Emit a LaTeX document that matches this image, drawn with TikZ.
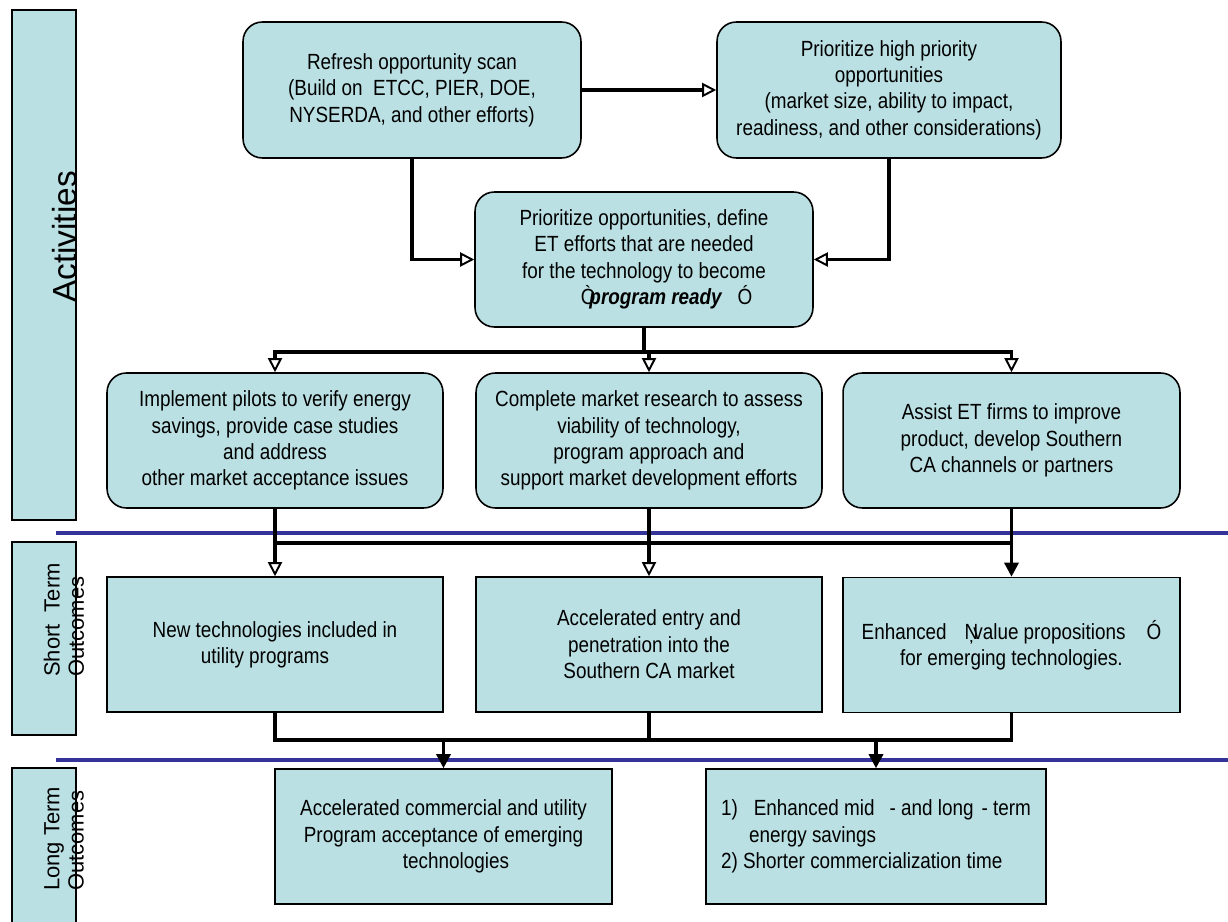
\documentclass[tikz,border=0pt]{standalone}
\usepackage{fontspec}
\setmainfont[FakeStretch=0.86]{Liberation Sans}
\newfontfamily\sidefont{Liberation Sans}
\usetikzlibrary{arrows.meta, positioning, calc}
\definecolor{boxblue}{RGB}{186,224,227}
\definecolor{ruleblue}{RGB}{51,51,153}
\tikzset{
  roundbox/.style={rectangle, rounded corners=11pt,
    minimum width=6.76cm, minimum height=2.72cm, inner sep=0pt,
    text centered, draw=black, line width=0.9pt, fill=boxblue,
    font=\fontsize{12.5}{15}\selectfont, align=center},
  squarebox/.style={rectangle,
    minimum width=6.72cm, minimum height=2.7cm, inner sep=0pt,
    text centered, draw=black, line width=0.9pt, fill=boxblue,
    font=\fontsize{12.5}{15}\selectfont, align=center},
  sidebox/.style={rectangle, minimum width=1.28cm, inner sep=0pt,
    draw=black, line width=0.9pt, fill=boxblue},
  sidelabel/.style={rotate=90, align=left, inner sep=0pt,
    font=\sidefont\fontsize{12.5}{13.8}\selectfont},
  divider/.style={draw=ruleblue, line width=2.3pt},
  arr/.style={-{Triangle[open, length=8pt, width=8pt, line width=1.1pt]}, line width=1.8pt},
  arrf/.style={-{Triangle[length=8pt, width=8pt]}, line width=1.8pt},
  busline/.style={line width=1.8pt},
}
\begin{document}
\begin{tikzpicture}[x=0.02cm, y=-0.02cm]

\useasboundingbox (0,0) rectangle (1228,922);
\clip (0,0) rectangle (1228,922);

% Side labels
\node (actbox) [sidebox, minimum height=10.2cm] at (44,265) {};
\node (actlabel) [sidelabel, font=\sidefont\fontsize{19}{22}\selectfont] at (65,237) {Activities};
\node (stbox) [sidebox, minimum height=3.86cm] at (44,638.5) {};
\node (stlabel) [sidelabel] at (64,620) {Short\ \ Term\\Outcomes};
\node (ltbox) [sidebox, minimum height=3.2cm] at (44,848) {};
\node (ltlabel) [sidelabel] at (64,839) {Long Term\\Outcomes};

% Dividers
\draw[divider] (56,533) -- (1228,533);
\draw[divider] (56,760) -- (1228,760);

% Activities
\node (scan) [roundbox] at (412,90)
  {Refresh opportunity scan\\(Build on\ \ ETCC, PIER, DOE,\\NYSERDA, and other efforts)};

\node (prio) [roundbox, minimum width=6.88cm] at (889,90)
  {Prioritize high priority\\opportunities\\(market size, ability to impact,\\readiness, and other considerations)};

\node (define) [roundbox, minimum height=2.7cm] at (644,259.5)
  {Prioritize opportunities, define\\ET efforts that are needed\\for the technology to become\\
   \hspace*{0.9cm}Ò\kern-0.12cm\textbf{\textit{program ready}}\hspace{0.3cm}Ó};

\node (pilots) [roundbox, minimum width=6.72cm, minimum height=2.7cm] at (275,440.5)
  {Implement pilots to verify energy\\savings, provide case studies\\and address\\other market acceptance issues};

\node (research) [roundbox, minimum width=6.92cm, minimum height=2.7cm] at (649,440.5)
  {Complete market research to assess\\viability of technology,\\program approach and\\support market development efforts};

\node (assist) [roundbox, minimum width=6.74cm, minimum height=2.7cm] at (1011.5,440.5)
  {Assist ET firms to improve\\product, develop Southern\\CA channels or partners};

% Short term outcomes
\node (newtech) [squarebox] at (275,644.5)
  {New technologies included in\\utility programs\hspace*{0.4cm}};

\node (entry) [squarebox, minimum width=6.92cm] at (649,644.5)
  {Accelerated entry and\\penetration into the\\Southern CA market};

\node (value) [squarebox, minimum width=6.74cm] at (1011.5,645)
  {Enhanced\hspace{0.36cm}Ņ\kern-0.1cm value propositions\hspace{0.42cm}Ó\\for emerging technologies.};

% Long term outcomes
\node (accept) [squarebox, minimum width=6.74cm] at (443.5,836.5)
  {Accelerated commercial and utility\\Program acceptance of emerging\\\hspace*{0.5cm}technologies};

\node (savings) [squarebox, minimum width=6.8cm, align=left] at (876,836.5)
  {1)\hspace{0.32cm}Enhanced mid\hspace{0.3cm}- and long\hspace{0.16cm}- term\\
   \hspace*{0.56cm}energy savings\\2) Shorter commercialization time};

% Buses
\coordinate (bus1) at (0,352);
\coordinate (bus2) at (0,543);
\coordinate (bus3) at (0,740);

% Connectors
\draw[arr] (scan.east) -- (prio.west);
\draw[arr] (scan.south) |- (define.west);
\draw[arr] (prio.south) |- (define.east);
\foreach \n in {pilots, research, assist}
  \draw[arr] (define.south) |- (bus1 -| \n.north) -- (\n.north);

\draw[busline] (pilots.south |- bus2) -- (assist.south |- bus2);
\draw[arr]  (pilots.south)   -- (newtech.north);
\draw[arr]  (research.south) -- (entry.north);
\draw[arrf] (assist.south)   -- (value.north);

\draw[busline] (newtech.south) |- (bus3 -| value.south) -- (value.south);
\draw[busline] (entry.south) -- (entry.south |- bus3);
\draw[arrf] (bus3 -| accept.north)  -- (accept.north);
\draw[arrf] (bus3 -| savings.north) -- (savings.north);

\end{tikzpicture}
\end{document}
